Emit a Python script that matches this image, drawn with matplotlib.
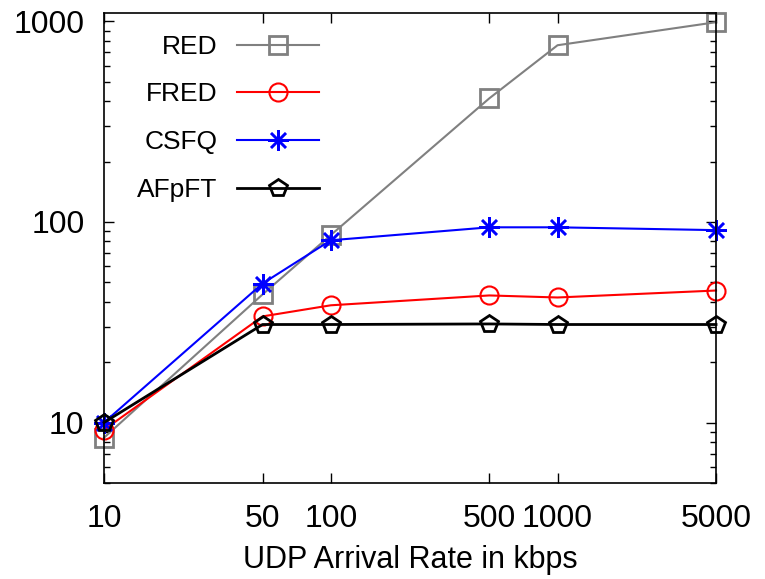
import matplotlib
matplotlib.use("Agg")
from matplotlib import pyplot as plt
from matplotlib.ticker import FixedLocator, LogLocator, NullFormatter, NullLocator

plt.rcParams['font.family'] = ['Liberation Sans', 'DejaVu Sans']

rates = [10, 50, 100, 500, 1000, 5000]
x_labels = ['10', '50', '100', '500', '1000', '5000']

red = [8.4, 43.5, 86, 413, 760, 990]
fred = [9.2, 33.8, 38.4, 43, 42, 45.5]
csfq = [10, 49.3, 81, 94, 94, 91]
afpft = [10, 30.8, 30.8, 31, 30.8, 30.8]

fig = plt.figure(figsize=(7.65, 5.79), dpi=100)
ax = fig.add_axes([0.136, 0.166, 0.800, 0.8115])

ax.plot(rates, red, color='#808080', lw=1.5, marker='s', ms=13, mfc='none', mew=2,
        label='RED', clip_on=False)
ax.plot(rates, fred, color='red', lw=1.5, marker='o', ms=13, mfc='none', mew=1.5,
        label='FRED', clip_on=False)
ax.plot(rates, csfq, color='blue', lw=1.5, marker=(8, 2, 0), ms=15, mew=1.8,
        label='CSFQ', clip_on=False)
ax.plot(rates, afpft, color='black', lw=2, marker='p', ms=13, mfc='none', mew=2,
        label='AFpFT', clip_on=False)

ax.set_xscale('log')
ax.set_yscale('log')
ax.set_xlim(10, 5000)
ax.set_ylim(5, 1100)

ax.xaxis.set_major_locator(FixedLocator(rates))
ax.set_xticklabels(x_labels)
ax.xaxis.set_minor_locator(NullLocator())
ax.yaxis.set_major_locator(FixedLocator([10, 100, 1000]))
ax.set_yticklabels(['10', '100', '1000'])
ax.yaxis.set_minor_locator(LogLocator(base=10, subs=range(2, 10)))
ax.yaxis.set_minor_formatter(NullFormatter())

ax.tick_params(which='both', direction='in', top=True, right=True, width=1)
ax.tick_params(which='major', length=7)
ax.tick_params(which='minor', length=4)
ax.tick_params(axis='y', which='major', labelsize=23, pad=14)
ax.tick_params(axis='x', which='major', labelsize=23, pad=15)
for s in ax.spines.values():
    s.set_linewidth(1.2)

ax.set_xlabel('UDP Arrival Rate in kbps', fontsize=22, labelpad=8)

ax.legend(loc='upper right', bbox_to_anchor=(0.417, 0.940), bbox_transform=fig.transFigure,
          markerfirst=False, frameon=False, fontsize=19, handlelength=3.1,
          handletextpad=0.75, labelspacing=0.9, borderpad=0, borderaxespad=0)

fig.savefig('out.png', dpi=100)
